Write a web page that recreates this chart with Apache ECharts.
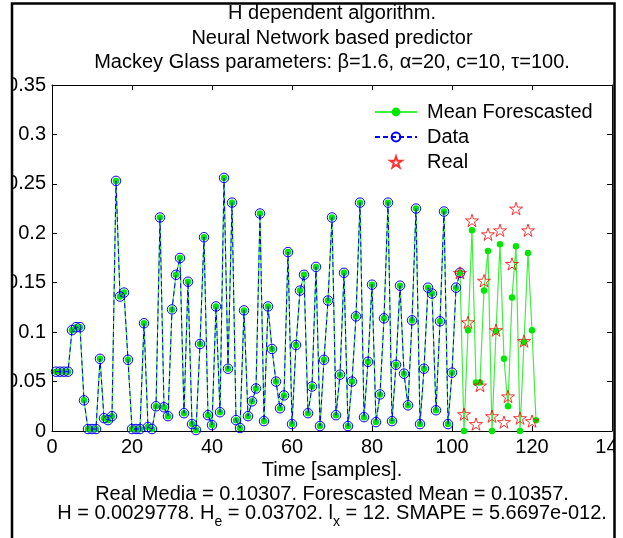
<!DOCTYPE html>
<html>
<head>
<meta charset="utf-8">
<script src="https://cdn.jsdelivr.net/npm/echarts@6/dist/echarts.min.js"></script>
<style>html,body{margin:0;padding:0;background:#fff}#c{width:623px;height:538px}</style>
</head>
<body>
<div id="c"></div>
<script>
// ---- data ----
// Data: samples t = 1 .. 102
const dataValues = [
  0.060, 0.060, 0.060, 0.060, 0.102, 0.105, 0.105, 0.031, 0.002, 0.002,
  0.002, 0.073, 0.013, 0.011, 0.015, 0.253, 0.136, 0.140, 0.072, 0.002,
  0.002, 0.002, 0.109, 0.004, 0.002, 0.025, 0.216, 0.024, 0.015, 0.123,
  0.158, 0.175, 0.018, 0.151, 0.007, 0.001, 0.088, 0.196, 0.016, 0.006,
  0.126, 0.019, 0.256, 0.063, 0.231, 0.011, 0.003, 0.122, 0.015, 0.030,
  0.043, 0.220, 0.010, 0.126, 0.083, 0.050, 0.023, 0.036, 0.181, 0.007,
  0.087, 0.142, 0.158, 0.018, 0.045, 0.166, 0.005, 0.072, 0.132, 0.216,
  0.016, 0.057, 0.160, 0.005, 0.050, 0.116, 0.231, 0.014, 0.070, 0.148,
  0.009, 0.037, 0.114, 0.231, 0.010, 0.067, 0.147, 0.058, 0.026, 0.112,
  0.225, 0.007, 0.063, 0.145, 0.139, 0.021, 0.111, 0.222, 0.007, 0.059,
  0.145, 0.160
];
const dataStart = 1;
// Mean forecasted: samples t = 103 .. 121 (continues the data line)
const forecastValues = [
  0.000, 0.102, 0.203, 0.049, 0.049, 0.142, 0.182, 0.000, 0.101, 0.189,
  0.073, 0.025, 0.135, 0.187, 0.000, 0.090, 0.180, 0.102, 0.011
];
const forecastStart = 103;
// Real: samples t = 102 .. 120
const realValues = [
  0.160, 0.017, 0.110, 0.213, 0.007, 0.046, 0.152, 0.199, 0.015, 0.102,
  0.203, 0.009, 0.035, 0.169, 0.225, 0.013, 0.091, 0.203, 0.010
];
const realStart = 102;

const xTicks = [0, 20, 40, 60, 80, 100, 120, 140];
const yTicks = [0, 0.05, 0.1, 0.15, 0.2, 0.25, 0.3, 0.35];

const titleLines = [
  'H dependent algorithm.',
  'Neural Network based predictor',
  'Mackey Glass parameters: \u03b2=1.6, \u03b1=20, c=10, \u03c4=100.'
];
const xLabel = 'Time [samples].';
const infoLine1 = 'Real Media = 0.10307. Forescasted Mean = 0.10357.';
// second info line: [text, isSubscript]
const infoLine2 = [
  ['H = 0.0029778. H', false], ['e', true], [' = 0.03702. l', false], ['x', true],
  [' = 12. SMAPE = 5.6697e-012.', false]
];

// ---- build ----
const FONT = 'Liberation Sans, Arial, Helvetica, sans-serif';
const pairs = (arr, start) => arr.map((v, i) => [start + i, v]);
const dataSeries = pairs(dataValues, dataStart);
const meanSeries = dataSeries.concat(pairs(forecastValues, forecastStart));
const realSeries = pairs(realValues, realStart);

function starPath() {
  let p = '';
  for (let i = 0; i < 10; i++) {
    const a = (-90 + 36 * i) * Math.PI / 180;
    const r = i % 2 ? 0.382 : 1;
    p += (i ? 'L' : 'M') + (r * Math.cos(a)).toFixed(4) + ' ' + (r * Math.sin(a)).toFixed(4) + ' ';
  }
  return 'path://' + p + 'Z';
}

// subscript line laid out with measured widths
const ctx = document.createElement('canvas').getContext('2d');
const segSize = s => s[1] ? 14 : 20;
const segWidth = s => { ctx.font = segSize(s) + 'px ' + FONT; return ctx.measureText(s[0]).width; };
const totalW = infoLine2.reduce((a, s) => a + segWidth(s), 0);
let cx = 332 - totalW / 2;
const line2Graphics = infoLine2.map(s => {
  const g = { type: 'text', z: 50, style: {
    text: s[0], x: cx, y: s[1] ? 522 : 513, align: 'left', verticalAlign: 'middle',
    fontSize: segSize(s), fontFamily: FONT, fill: '#000' } };
  cx += segWidth(s);
  return g;
});

const axisCommon = {
  type: 'value',
  axisLine: { onZero: false, lineStyle: { color: '#000', width: 1 } },
  axisTick: { inside: true, length: 5, lineStyle: { color: '#000', width: 1 } },
  splitLine: { show: false }
};

const chart = echarts.init(document.getElementById('c'), null, { renderer: 'canvas' });
const option = {
  animation: false,
  backgroundColor: '#fff',
  grid: { left: 52, top: 85, width: 560, height: 346, containLabel: false, outerBoundsMode: 'none' },
  xAxis: [
    Object.assign({}, axisCommon, {
      min: xTicks[0], max: xTicks[xTicks.length - 1], interval: xTicks[1] - xTicks[0], position: 'bottom',
      axisLabel: { color: '#000', fontSize: 20, fontFamily: FONT, margin: 6, showMinLabel: true, showMaxLabel: true,
                   alignMinLabel: 'center', alignMaxLabel: 'center', hideOverlap: false }
    }),
    Object.assign({}, axisCommon, {
      min: xTicks[0], max: xTicks[xTicks.length - 1], interval: xTicks[1] - xTicks[0], position: 'top',
      axisLabel: { show: false }
    })
  ],
  yAxis: [
    Object.assign({}, axisCommon, {
      min: yTicks[0], max: yTicks[yTicks.length - 1], interval: yTicks[1] - yTicks[0], position: 'left',
      axisLabel: {
        color: '#000', fontSize: 20, fontFamily: FONT, margin: 6, showMinLabel: true, showMaxLabel: true,
        formatter: v => v === 0 ? '0' : String(+v.toFixed(2))
      }
    }),
    Object.assign({}, axisCommon, {
      min: yTicks[0], max: yTicks[yTicks.length - 1], interval: yTicks[1] - yTicks[0], position: 'right',
      axisLabel: { show: false }
    })
  ],
  legend: {
    orient: 'vertical',
    left: 369, top: 97,
    itemWidth: 42, itemHeight: 11, itemGap: 5,
    textStyle: { color: '#000', fontSize: 20, fontFamily: FONT, lineHeight: 20, padding: [0, 0, 0, 5] },
    data: ['Mean Forescasted', 'Data', 'Real'],
    selectedMode: false
  },
  series: [
    {
      name: 'Mean Forescasted', type: 'line', data: meanSeries,
      symbol: 'circle', symbolSize: 6.5,
      itemStyle: { color: '#00e800' },
      lineStyle: { color: '#40ee40', width: 1.2 },
      z: 2
    },
    {
      name: 'Data', type: 'line', data: dataSeries,
      symbol: 'circle', symbolSize: 9.5,
      itemStyle: { color: 'rgba(0,0,0,0)', borderColor: '#0000ff', borderWidth: 1 },
      lineStyle: { color: '#0000ff', width: 1, type: [5, 3] },
      z: 3
    },
    {
      name: 'Real', type: 'scatter', data: realSeries,
      symbol: starPath(), symbolSize: 13, symbolKeepAspect: true,
      itemStyle: { color: 'rgba(0,0,0,0)', borderColor: '#ff0000', borderWidth: 1 },
      z: 4
    }
  ],
  graphic: [
    { type: 'text', z: 50, style: { text: titleLines[0], x: 332, y: 13, align: 'center', verticalAlign: 'middle', fontSize: 20, fontFamily: FONT, fill: '#000' } },
    { type: 'text', z: 50, style: { text: titleLines[1], x: 332, y: 38, align: 'center', verticalAlign: 'middle', fontSize: 20, fontFamily: FONT, fill: '#000' } },
    { type: 'text', z: 50, style: { text: titleLines[2], x: 332, y: 62, align: 'center', verticalAlign: 'middle', fontSize: 20, fontFamily: FONT, fill: '#000' } },
    { type: 'text', z: 50, style: { text: xLabel, x: 332, y: 470, align: 'center', verticalAlign: 'middle', fontSize: 20, fontFamily: FONT, fill: '#000' } },
    { type: 'text', z: 50, style: { text: infoLine1, x: 332, y: 494, align: 'center', verticalAlign: 'middle', fontSize: 20, fontFamily: FONT, fill: '#000' } }
  ].concat(line2Graphics).concat([
    // figure frame / clipping
    { type: 'rect', z: 90, shape: { x: 0, y: 0, width: 11, height: 538 }, style: { fill: '#fff' } },
    { type: 'rect', z: 90, shape: { x: 615, y: 0, width: 8, height: 538 }, style: { fill: '#fff' } },
    { type: 'rect', z: 90, shape: { x: 0, y: 0, width: 623, height: 3 }, style: { fill: '#fff' } },
    { type: 'rect', z: 100, shape: { x: 12, y: 3.5, width: 602.5, height: 600 }, style: { fill: 'none', stroke: '#000', lineWidth: 2.5 } }
  ])
};
chart.setOption(option);
</script>
</body>
</html>
